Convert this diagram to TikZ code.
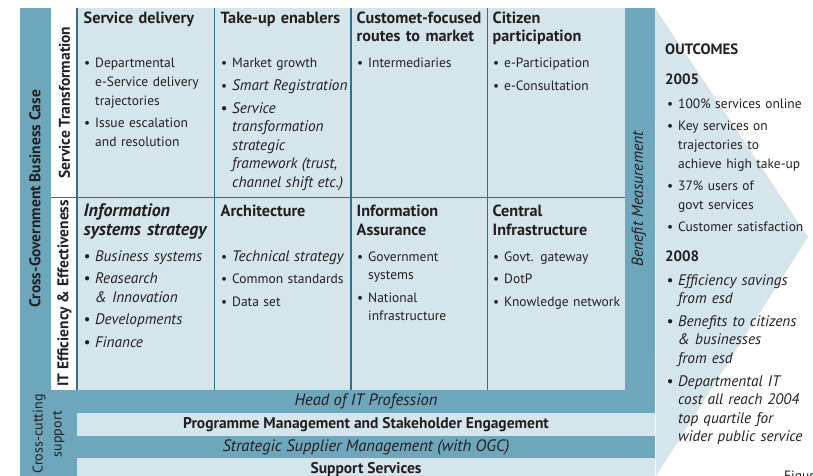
\documentclass[tikz,border=0pt]{standalone}
\usepackage{fontspec}
\setmainfont{PT Sans}[ItalicFeatures={Scale=1.13}, BoldItalicFeatures={Scale=1.16}]
\usepackage{tikz}
\usetikzlibrary{positioning}
\definecolor{bardark}{RGB}{110,167,188}
\definecolor{cellpale}{RGB}{212,229,236}
\definecolor{gridblue}{RGB}{50,113,138}
\definecolor{ink}{RGB}{35,31,32}
\newcommand{\bul}{\leavevmode\llap{\textbullet\hspace{5pt}}}
\newcommand{\nxt}{\\[4pt]\bul}

\begin{document}
\begin{tikzpicture}[x=1pt, y=-1pt,
  every node/.style = {inner sep=0pt, text=ink},
  head/.style = {anchor=base west, text width=150pt, align=left,
    font=\fontsize{16.2}{18.6}\selectfont\bfseries},
  bullets/.style = {anchor=base west, text width=150pt, align=left,
    font=\fontsize{13.5}{18.6}\selectfont,
    execute at begin node={\leftskip=11.5pt\bul}},
  side/.style = {rotate=90, font=\fontsize{15.5}{18}\selectfont\bfseries},
  band/.style = {anchor=base, font=\fontsize{15.5}{16}\selectfont#1},
  band/.default = {}
]
\useasboundingbox (0,0) rectangle (813,476);
% background
\fill[bardark] (20,8) rectangle (655,476);
\fill[cellpale] (655,8) -- (808,237) -- (656,476) -- cycle;
\fill[white] (51,8) rectangle (77,390);
\fill[cellpale] (77,8) rectangle (625,390);
\fill[cellpale] (77,413) rectangle (655,436);
\fill[cellpale] (77,458) rectangle (655,476);
\draw[gridblue, line width=1.1pt] (51,197.3) -- (625,197.3);
\foreach \x in {77,214.7,351,487.7}
  \draw[gridblue, line width=1.1pt] (\x,8) -- (\x,390);

% side labels
\node[side] (bizcase) at (35,199) {Cross-Government Business Case};
\node[side] (servtrans) at (64.5,102.5) {Service Transformation};
\node[side] (itee) at (64.5,293.5) {IT Efficiency \& Effectiveness};
\node[side, font=\fontsize{14}{18}\selectfont\itshape] (benefit) at (639,199) {Benefit Measurement};
\node[rotate=90, align=center, font=\fontsize{14}{19}\selectfont] (crosscut) at (48.5,434) {Cross-cutting\\support};

% service transformation row
\node[head] (servdel) at (83.5,23.3) {Service delivery};
\node[head] (takeup) at (220.5,23.3) {Take-up enablers};
\node[head] (routes) at (356.5,23.3) {Customet-focused\\routes to market};
\node[head] (citizen) at (492.5,23.3) {Citizen\\participation};
\node[bullets] (servdel-l) at (83.5,68) {Departmental\\e-Service delivery\\trajectories\nxt Issue escalation\\and resolution};
\node[bullets] (takeup-l) at (220.5,68) {Market growth\nxt\itshape Smart Registration\nxt Service\\transformation\\strategic\\framework (trust,\\channel shift etc.)};
\node[bullets] (routes-l) at (356.5,68) {Intermediaries};
\node[bullets] (citizen-l) at (492.5,68) {e-Participation\nxt e-Consultation};

% it efficiency row
\node[head, font=\fontsize{15.5}{18.6}\selectfont\bfseries\itshape] (issys) at (83.5,216.7) {Information\\systems strategy};
\node[head] (arch) at (220.5,216.7) {Architecture};
\node[head] (assur) at (356.5,216.7) {Information\\Assurance};
\node[head] (infra) at (492.5,216.7) {Central\\Infrastructure};
\node[bullets, font=\fontsize{13.5}{18.6}\selectfont\itshape] (issys-l) at (83.5,261) {Business systems\nxt Reasearch\\\& Innovation\nxt Developments\nxt Finance};
\node[bullets] (arch-l) at (220.5,261) {{\itshape Technical strategy}\nxt Common standards\nxt Data set};
\node[bullets] (assur-l) at (356.5,261) {Government\\systems\nxt National\\infrastructure};
\node[bullets] (infra-l) at (492.5,261) {Govt. gateway\nxt DotP\nxt Knowledge network};

% cross-cutting bands
\node[band=\itshape, font=\fontsize{14.6}{16}\selectfont\itshape] (headit) at (366,405) {Head of IT Profession};
\node[band=\bfseries] (progmgmt) at (366,428.3) {Programme Management and Stakeholder Engagement};
\node[band=\itshape, font=\fontsize{14.6}{16}\selectfont\itshape] (supplier) at (366,451) {Strategic Supplier Management (with OGC)};
\node[band=\bfseries] (support) at (366,473) {Support Services};

% outcomes
\node[head, font=\fontsize{15}{18}\selectfont\bfseries] (outcomes) at (665,55) {OUTCOMES};
\node[head, font=\fontsize{15}{18}\selectfont\bfseries] (y2005) at (665,85) {2005};
\node[bullets] (y2005-l) at (666.5,108.3) {100\% services online\nxt Key services on\\trajectories to\\achieve high take-up\nxt 37\% users of\\govt services\nxt Customer satisfaction};
\node[head, font=\fontsize{15}{18}\selectfont\bfseries] (y2008) at (665,261.7) {2008};
\node[bullets, font=\fontsize{13.5}{18.6}\selectfont\itshape] (y2008-l) at (666.5,285) {Efficiency savings\\from esd\nxt Benefits to citizens\\\& businesses\\from esd\nxt Departmental IT\\cost all reach 2004\\top quartile for\\wider public service};
\node[anchor=base west, font=\fontsize{13.5}{16}\selectfont] (caption) at (784,480) {Figure};
\end{tikzpicture}
\end{document}
